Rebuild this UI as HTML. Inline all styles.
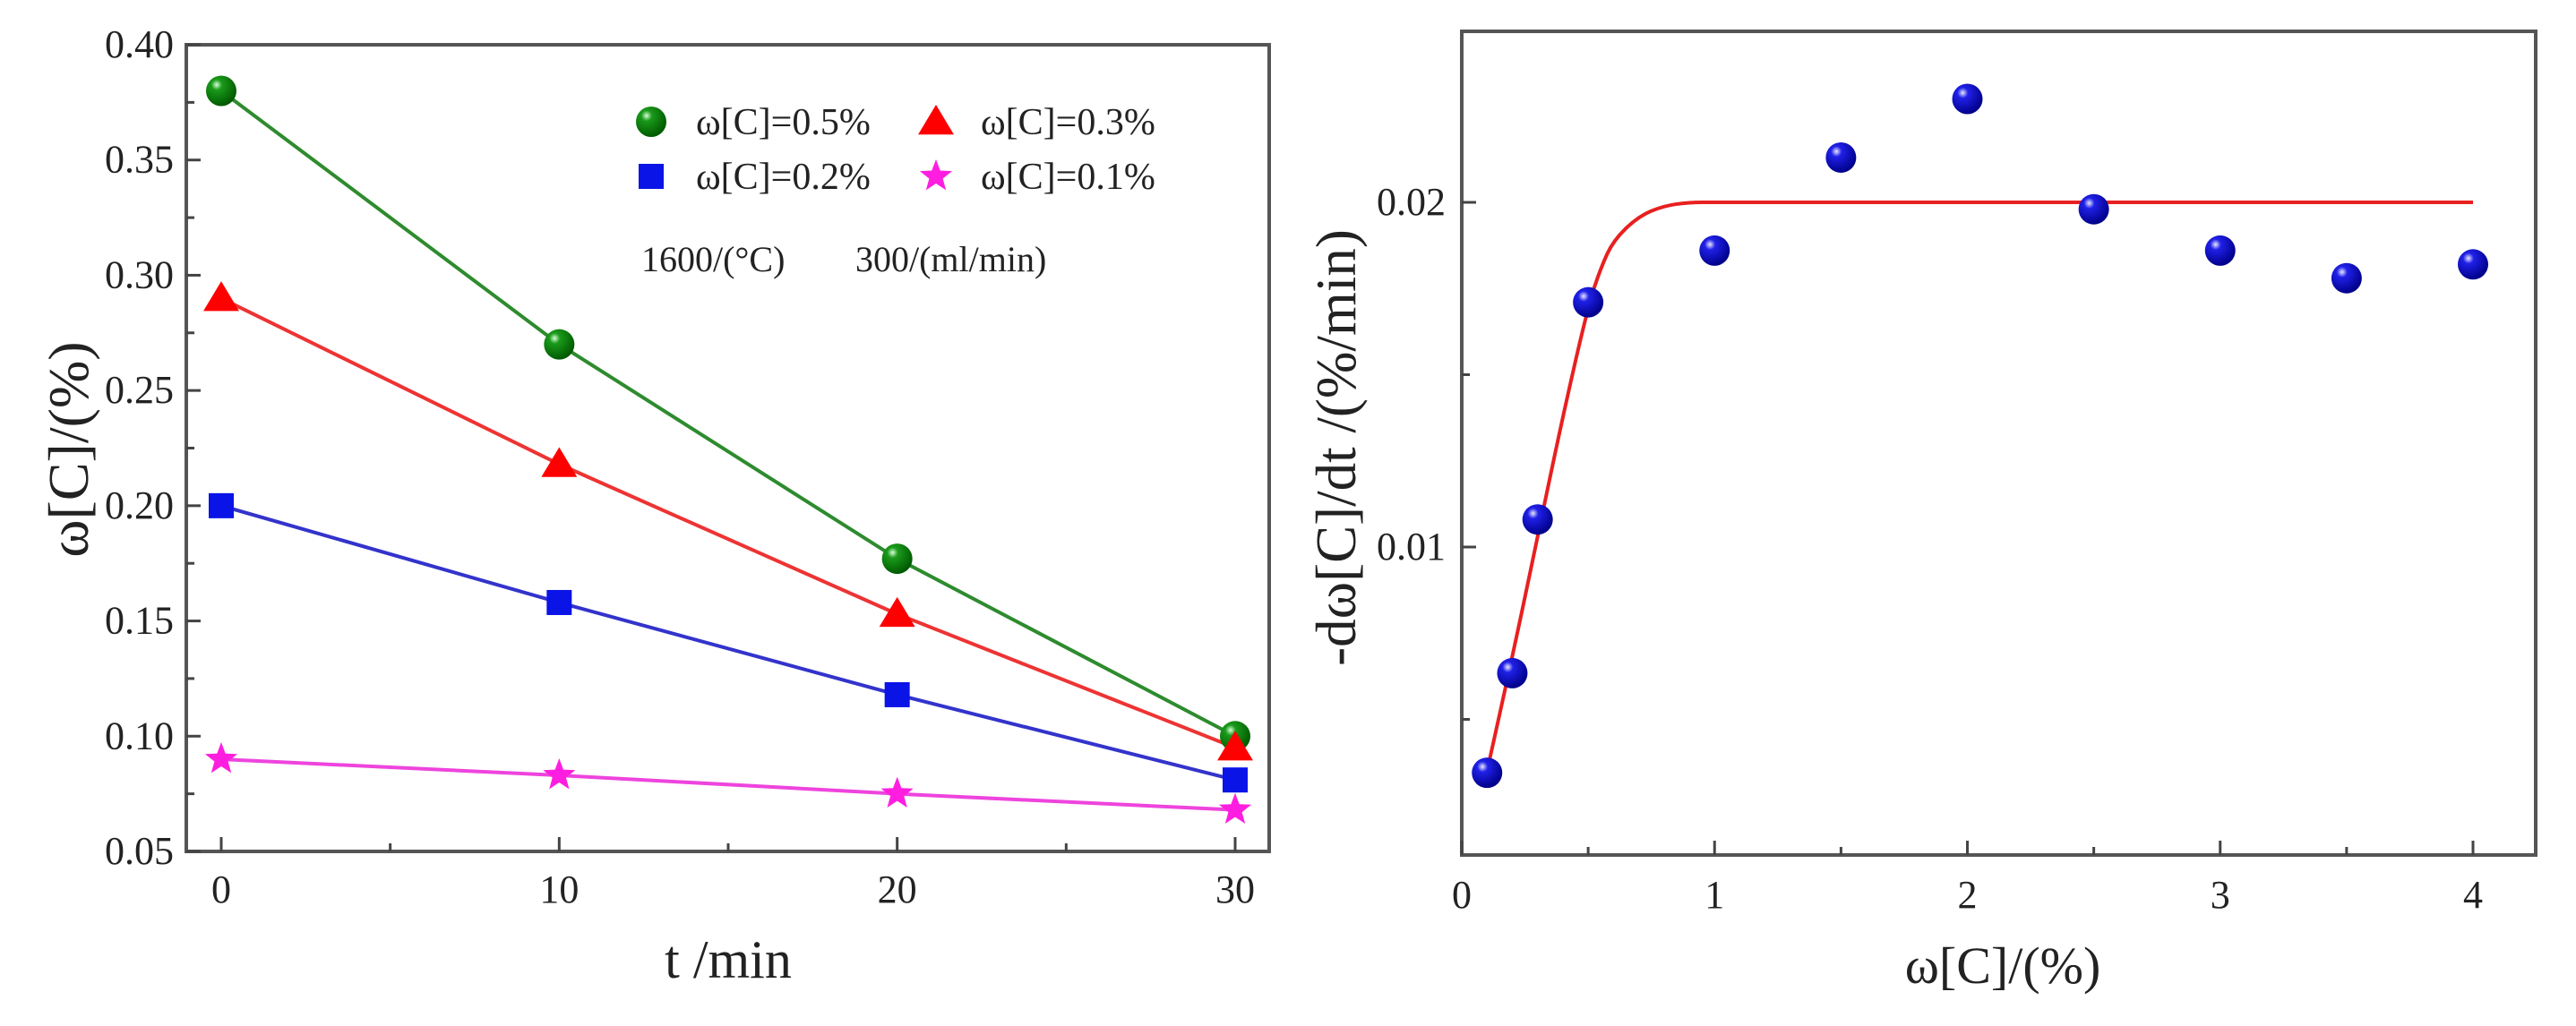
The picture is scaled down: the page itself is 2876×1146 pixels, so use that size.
<!DOCTYPE html>
<html><head><meta charset="utf-8"><style>
html,body{margin:0;padding:0;background:#fff;}
svg{display:block;font-family:"Liberation Serif",serif;}
</style></head><body>
<svg id="c" width="2876" height="1146" viewBox="0 0 2876 1146">
<defs>
<radialGradient id="gG" cx="0.35" cy="0.3" r="0.7"><stop offset="0" stop-color="#d8ffd8"/><stop offset="0.25" stop-color="#1a9a1a"/><stop offset="1" stop-color="#005a00"/></radialGradient>
<radialGradient id="gB" cx="0.35" cy="0.3" r="0.7"><stop offset="0" stop-color="#e8e8ff"/><stop offset="0.25" stop-color="#2020e8"/><stop offset="1" stop-color="#00008a"/></radialGradient>
</defs>
<g id="left"></g>
<g id="right"></g>
</svg>
<script>
// Left chart data
const tTimes = [0, 10, 20, 30];
const seriesC05 = [0.38, 0.27, 0.177, 0.10];
const seriesC03 = [0.29, 0.218, 0.153, 0.095];
const seriesC02 = [0.20, 0.158, 0.118, 0.081];
const seriesC01 = [0.09, 0.083, 0.075, 0.068];
const leftYTicks = [0.05, 0.10, 0.15, 0.20, 0.25, 0.30, 0.35, 0.40];
const leftYTickLabels = ["0.05","0.10","0.15","0.20","0.25","0.30","0.35","0.40"];
const leftXTicks = [0, 10, 20, 30];
const leftXTickLabels = ["0","10","20","30"];
// Right chart data
const rateX = [0.1, 0.2, 0.3, 0.5, 1, 1.5, 2, 2.5, 3, 3.5, 4];
const rateY = [0.00345, 0.00634, 0.0108, 0.0171, 0.0186, 0.0213, 0.0230, 0.0198, 0.0186, 0.0178, 0.0182];
const fitX = [0.1, 0.2, 0.3, 0.4, 0.5, 0.55, 0.6, 0.7, 0.8, 0.9, 1.0, 4.0];
const fitY = [0.0035, 0.0068, 0.0103, 0.0138, 0.0170, 0.0181, 0.0189, 0.0196, 0.0199, 0.02, 0.02, 0.02];
const rightYTicks = [0.01, 0.02];
const rightYTickLabels = ["0.01","0.02"];
const rightXTicks = [0, 1, 2, 3, 4];
const rightXTickLabels = ["0","1","2","3","4"];

const NS = "http://www.w3.org/2000/svg";
function mk(parent, tag, attrs){const e=document.createElementNS(NS,tag);for(const k in attrs)e.setAttribute(k,attrs[k]);parent.appendChild(e);return e;}

// Left axes
const L = {x0:208, x1:1417, y0:50, y1:951};
const lx = v => 247 + (v-0)*(1379-247)/30;
const ly = v => 951 - (v-0.05)*(951-50)/0.35;
const gl = document.getElementById('left');
let fr = mk(gl,'rect',{x:L.x0,y:L.y0,width:L.x1-L.x0,height:L.y1-L.y0,fill:'none',stroke:'#555',"stroke-width":4});


leftYTicks.forEach((v,i)=>{
  let t=mk(gl,'line',{x1:L.x0,x2:L.x0+16,y1:ly(v),y2:ly(v),stroke:'#444',"stroke-width":3});
  
  
  if(i<leftYTicks.length-1){let m=mk(gl,'line',{x1:L.x0,x2:L.x0+9,y1:ly(v+0.025),y2:ly(v+0.025),stroke:'#444',"stroke-width":3});
  
  }
  let tx=mk(gl,'text',{x:L.x0-14,y:ly(v)+14,"font-size":44,"text-anchor":"end",fill:'#222'});
  tx.textContent=leftYTickLabels[i];
  
  
});
leftXTicks.forEach((v,i)=>{
  let t=mk(gl,'line',{x1:lx(v),x2:lx(v),y1:L.y1,y2:L.y1-16,stroke:'#444',"stroke-width":3});
  
  
  if(i<leftXTicks.length-1){let m=mk(gl,'line',{x1:lx(v+5),x2:lx(v+5),y1:L.y1,y2:L.y1-9,stroke:'#444',"stroke-width":3});
  
  }
  let tx=mk(gl,'text',{x:lx(v),y:1008,"font-size":44,"text-anchor":"middle",fill:'#222'});
  tx.textContent=leftXTickLabels[i];
  
  
});
let xt=mk(gl,'text',{x:813,y:1092,"font-size":60,"text-anchor":"middle",fill:'#222'});
xt.textContent='t /min';


let yt=mk(gl,'text',{x:0,y:0,"font-size":64,"text-anchor":"middle",fill:'#222',transform:'translate(98,502) rotate(-90)'});
yt.textContent='ω[C]/(%)';



function sphere(g,x,y,r,grad){return mk(g,'circle',{cx:x,cy:y,r:r,fill:'url(#'+grad+')'});}
function tri(g,x,y,s){return mk(g,'polygon',{points:`${x},${y-s} ${x+s*1.05},${y+s*0.75} ${x-s*1.05},${y+s*0.75}`,fill:'#f00'});}
function sq(g,x,y,s){return mk(g,'rect',{x:x-s,y:y-s,width:2*s,height:2*s,fill:'#0a14e6'});}
function star(g,x,y,r){let p=[];for(let k=0;k<10;k++){const a=-Math.PI/2+k*Math.PI/5;const rr=k%2?r*0.42:r;p.push((x+rr*Math.cos(a)).toFixed(1)+','+(y+rr*Math.sin(a)).toFixed(1));}return mk(g,'polygon',{points:p.join(' '),fill:'#ff1ee0'});}

const series=[
 {name:'c05',data:seriesC05,color:'#2e8b2e',m:(g,x,y)=>sphere(g,x,y,17,'gG')},
 {name:'c03',data:seriesC03,color:'#ee3333',m:(g,x,y)=>tri(g,x,y,19)},
 {name:'c02',data:seriesC02,color:'#3333cc',m:(g,x,y)=>sq(g,x,y,14)},
 {name:'c01',data:seriesC01,color:'#ee44dd',m:(g,x,y)=>star(g,x,y,19)}
];
series.forEach(s=>{
  const pts=tTimes.map((t,i)=>lx(t)+','+ly(s.data[i])).join(' ');
  let pl=mk(gl,'polyline',{points:pts,fill:'none',stroke:s.color,"stroke-width":4});
  
  
});
series.forEach(s=>{
  tTimes.forEach((t,i)=>{let m=s.m(gl,lx(t),ly(s.data[i]));
    
    });
});
// legend
const lg=mk(gl,'g',{});


const legItems=[[727,136,0,'ω[C]=0.5%'],[1045,136,1,'ω[C]=0.3%'],[727,197,2,'ω[C]=0.2%'],[1045,197,3,'ω[C]=0.1%']];
legItems.forEach(it=>{
  let m=series[it[2]].m(lg,it[0],it[1]);
  
  
  let tx=mk(lg,'text',{x:it[0]+50,y:it[1]+14,"font-size":42,fill:'#222'});
  tx.textContent=it[3];
  
  
});
let an1=mk(gl,'text',{x:716,y:303,"font-size":40,fill:'#222'});an1.textContent='1600/(°C)';


let an2=mk(gl,'text',{x:955,y:303,"font-size":40,fill:'#222'});an2.textContent='300/(ml/min)';



// Right axes
const R={x0:1632,x1:2831,y0:35,y1:955};
const rx=v=>1632+v*(2761-1632)/4;
const ry=v=>611-(v-0.01)*(611-226)/0.01;
const gr=document.getElementById('right');
let fr2=mk(gr,'rect',{x:R.x0,y:R.y0,width:R.x1-R.x0,height:R.y1-R.y0,fill:'none',stroke:'#555',"stroke-width":4});


rightYTicks.forEach((v,i)=>{
  let t=mk(gr,'line',{x1:R.x0,x2:R.x0+16,y1:ry(v),y2:ry(v),stroke:'#444',"stroke-width":3});
  
  
  let m=mk(gr,'line',{x1:R.x0,x2:R.x0+9,y1:ry(v-0.005),y2:ry(v-0.005),stroke:'#444',"stroke-width":3});
  
  
  let tx=mk(gr,'text',{x:R.x0-18,y:ry(v)+14,"font-size":44,"text-anchor":"end",fill:'#222'});
  tx.textContent=rightYTickLabels[i];
  
  
});
rightXTicks.forEach((v,i)=>{
  let t=mk(gr,'line',{x1:rx(v),x2:rx(v),y1:R.y1,y2:R.y1-16,stroke:'#444',"stroke-width":3});
  
  
  if(i<rightXTicks.length-1){let m=mk(gr,'line',{x1:rx(v+0.5),x2:rx(v+0.5),y1:R.y1,y2:R.y1-9,stroke:'#444',"stroke-width":3});
  
  }
  let tx=mk(gr,'text',{x:rx(v),y:1014,"font-size":44,"text-anchor":"middle",fill:'#222'});
  tx.textContent=rightXTickLabels[i];
  
  
});
let xt2=mk(gr,'text',{x:2236,y:1098,"font-size":58,"text-anchor":"middle",fill:'#222'});
xt2.textContent='ω[C]/(%)';


let yt2=mk(gr,'text',{x:0,y:0,"font-size":63,"text-anchor":"middle",fill:'#222',transform:'translate(1513,500) rotate(-90)'});
yt2.textContent='-dω[C]/dt /(%/min)';


// fit curve (smooth via quadratic midpoints)
const fp=fitX.map((x,i)=>[rx(x),ry(fitY[i])]);
let d='M'+fp[0][0]+','+fp[0][1];
for(let i=1;i<fp.length-1;i++){const mx=(fp[i][0]+fp[i+1][0])/2,my=(fp[i][1]+fp[i+1][1])/2;d+=` Q${fp[i][0]},${fp[i][1]} ${mx},${my}`;}
d+=` L${fp[fp.length-1][0]},${fp[fp.length-1][1]}`;
let fc=mk(gr,'path',{d:d,fill:'none',stroke:'#e82020',"stroke-width":4});


rateX.forEach((x,i)=>{
  let c=sphere(gr,rx(x),ry(rateY[i]),17,'gB');
  
  
});
</script>
</body></html>
